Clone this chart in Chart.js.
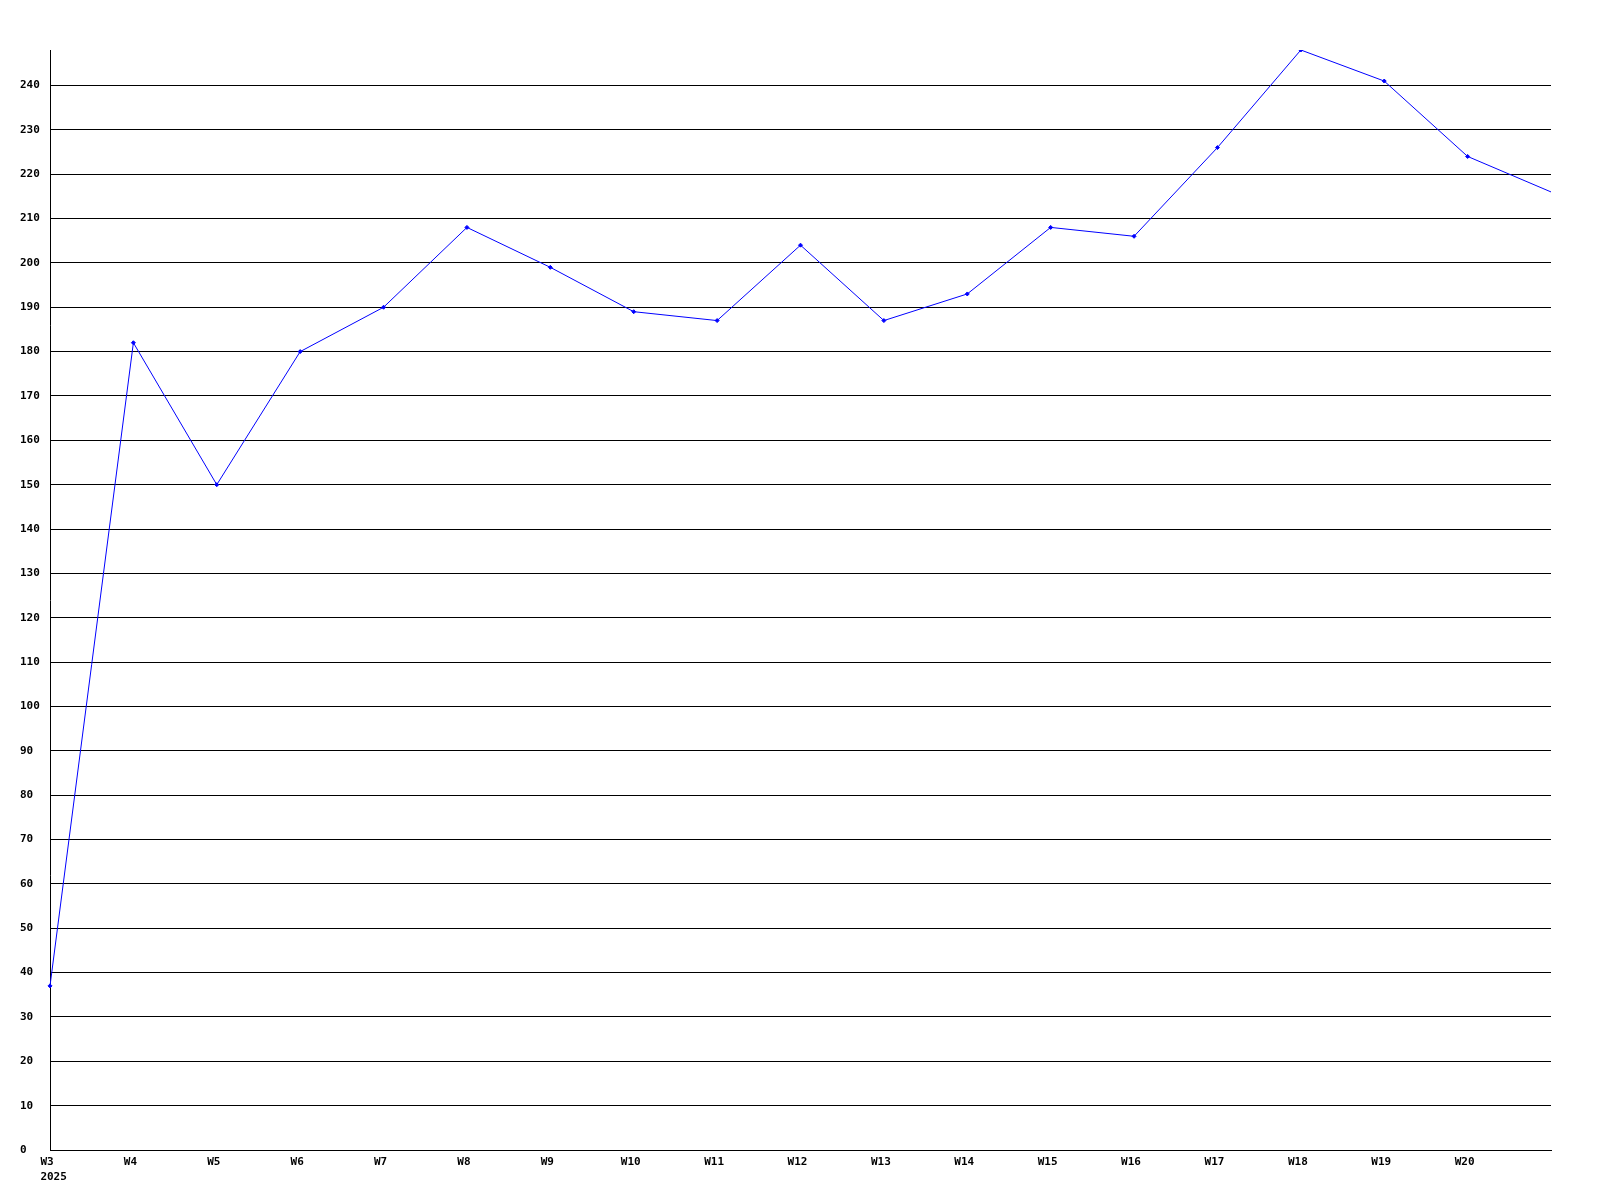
<!DOCTYPE html>
<html>
<head>
<meta charset="utf-8">
<script src="https://cdn.jsdelivr.net/npm/chart.js@4/dist/chart.umd.min.js"></script>
<style>
html,body{margin:0;padding:0;background:#fff;}
#wrap{width:1600px;height:1200px;}
</style>
</head>
<body>
<div id="wrap"><canvas id="c" width="1600" height="1200"></canvas></div>
<script>
const categories = ['W3','W4','W5','W6','W7','W8','W9','W10','W11','W12','W13','W14','W15','W16','W17','W18','W19','W20','W21'];
const yearLabel = '2025';
const values = [37,182,150,180,190,208,199,189,187,204,187,193,208,206,226,248,241,224,216];
const yTicksMax = 240;
const yStep = 10;

const FONT = {family: '"DejaVu Sans Mono", "Liberation Mono", monospace', size: 11, weight: 'bold', lineHeight: 1.36};
const LABEL_SHIFT = -3;

const yearPlugin = {
  id: 'yearLabel',
  afterDraw(chart) {
    const xs = chart.scales.x;
    const ctx = chart.ctx;
    ctx.save();
    ctx.font = `${FONT.weight} ${FONT.size}px ${FONT.family}`;
    ctx.fillStyle = '#000';
    ctx.textAlign = 'left';
    ctx.textBaseline = 'middle';
    const first = categories[0];
    const x0 = xs.getPixelForTick(0) + LABEL_SHIFT - ctx.measureText(first).width / 2;
    const y0 = xs.top + 5 + FONT.size * FONT.lineHeight * 1.5;
    ctx.fillText(yearLabel, x0, y0);
    ctx.restore();
  }
};

new Chart(document.getElementById('c'), {
  type: 'line',
  data: {
    labels: categories,
    datasets: [{
      data: values,
      borderColor: '#0000ff',
      backgroundColor: '#0000ff',
      borderWidth: 1,
      tension: 0,
      pointStyle: 'rectRot',
      pointRadius: values.map((v, i) => i === values.length - 1 ? 0 : 2),
      pointBorderWidth: 1,
      fill: false
    }]
  },
  plugins: [yearPlugin],
  options: {
    responsive: false,
    animation: false,
    devicePixelRatio: 1,
    layout: {padding: {top: 50, right: 49, left: 20, bottom: 0}},
    plugins: {legend: {display: false}, tooltip: {enabled: false}},
    scales: {
      x: {
        type: 'category',
        offset: false,
        grid: {display: false, drawTicks: false},
        border: {display: true, color: '#000', width: 1},
        ticks: {
          color: '#000', font: FONT, padding: 5, labelOffset: LABEL_SHIFT, autoSkip: false, maxRotation: 0, minRotation: 0,
          callback: function(val, idx) { return idx === categories.length - 1 ? '' : this.getLabelForValue(val); }
        },
        afterFit: s => { s.height = 50; }
      },
      y: {
        min: 0,
        max: Math.max(...values),
        grid: {color: '#000', lineWidth: 1, drawTicks: false},
        border: {display: true, color: '#000', width: 1},
        ticks: {color: '#000', font: FONT, padding: 10, stepSize: yStep, crossAlign: 'far'},
        afterBuildTicks: s => { s.ticks = s.ticks.filter(t => t.value % yStep === 0 && t.value <= yTicksMax); },
        afterFit: s => { s.width = 30; }
      }
    }
  }
});
</script>
</body>
</html>
